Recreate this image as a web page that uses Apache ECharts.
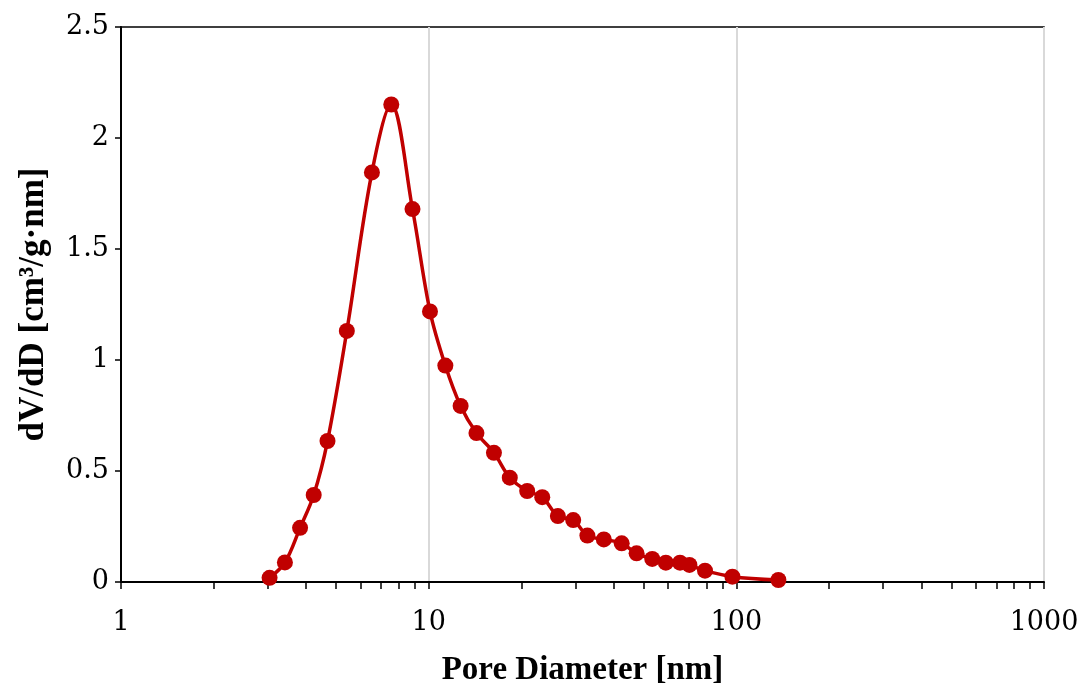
<!DOCTYPE html>
<html>
<head>
<meta charset="utf-8">
<script src="https://cdn.jsdelivr.net/npm/echarts@6/dist/echarts.min.js"></script>
<style>html,body{margin:0;padding:0;background:#fff}#c{width:1085px;height:690px}</style>
</head>
<body>
<div id="c"></div>
<script>
// Pore diameter [nm]
var diameters = [3.04, 3.41, 3.82, 4.23, 4.69, 5.42, 6.54, 7.56, 8.86, 10.1, 11.33, 12.7, 14.3, 16.3, 18.35, 20.9, 23.4, 26.3, 29.5, 32.8, 37.1, 42.4, 47.4, 53.3, 59.0, 65.6, 70.4, 79.1, 97.1, 137];
// dV/dD [cm3/g·nm]
var dvdd = [0.019, 0.088, 0.244, 0.392, 0.635, 1.131, 1.845, 2.151, 1.68, 1.219, 0.975, 0.793, 0.671, 0.582, 0.470, 0.410, 0.382, 0.297, 0.279, 0.209, 0.192, 0.174, 0.129, 0.104, 0.087, 0.087, 0.077, 0.051, 0.024, 0.009];
var xMajorTicks = [1, 10, 100, 1000];
var xMinorTicks = [2,3,4,5,6,7,8,9,20,30,40,50,60,70,80,90,200,300,400,500,600,700,800,900];
var yTicks = [0, 0.5, 1, 1.5, 2, 2.5];

var points = diameters.map(function (d, i) { return [d, dvdd[i]]; });
var serif = '"DejaVu Serif", "Liberation Serif", serif';
var chart = echarts.init(document.getElementById('c'));
chart.setOption({
  animation: false,
  backgroundColor: '#fff',
  grid: { left: 121, right: 41, top: 27, bottom: 108, show: true, borderColor: '#000', borderWidth: 1.5, backgroundColor: 'transparent', outerBoundsMode: 'none', containLabel: false },
  xAxis: [{
    type: 'log', logBase: 10, min: 1, max: 1000,
    name: 'Pore Diameter [nm]', nameLocation: 'middle', nameGap: 72,
    nameTextStyle: { fontFamily: '"Liberation Serif", serif', fontWeight: 'bold', fontSize: 33, color: '#000' },
    axisLine: { lineStyle: { color: '#000', width: 2 } },
    axisTick: { show: true, inside: false, length: 7, lineStyle: { color: '#000', width: 1.5 }, customValues: xMajorTicks },
    axisLabel: { fontFamily: serif, fontSize: 27, color: '#000', margin: 27, customValues: xMajorTicks,
      formatter: function (v) { return String(Math.round(v)); } },
    splitLine: { show: true, lineStyle: { color: '#d9d9d9', width: 2 } },
    minorTick: { show: false }
  }, {
    type: 'log', logBase: 10, min: 1, max: 1000, position: 'bottom', gridIndex: 0,
    axisLine: { show: false },
    axisTick: { show: true, inside: false, length: 7, lineStyle: { color: '#000', width: 1.5 }, customValues: xMinorTicks },
    axisLabel: { show: false },
    splitLine: { show: false }
  }],
  yAxis: {
    type: 'value', min: 0, max: 2.5, interval: 0.5,
    name: 'dV/dD [cm³/g·nm]', nameLocation: 'middle', nameGap: 70,
    nameTextStyle: { fontFamily: '"Liberation Serif", serif', fontWeight: 'bold', fontSize: 35, color: '#000' },
    axisLine: { show: true, lineStyle: { color: '#000', width: 2 } },
    axisTick: { show: true, inside: false, length: 6, lineStyle: { color: '#000', width: 1.5 } },
    axisLabel: { fontFamily: serif, fontSize: 27, color: '#000', margin: 12,
      formatter: function (v) { return String(v); } },
    splitLine: { show: false }
  },
  series: [{
    type: 'line',
    data: points,
    smooth: 0.35,
    symbol: 'circle',
    symbolSize: 16,
    itemStyle: { color: '#C00000' },
    lineStyle: { color: '#C00000', width: 3.5 },
    z: 5
  }]
});
</script>
</body>
</html>
